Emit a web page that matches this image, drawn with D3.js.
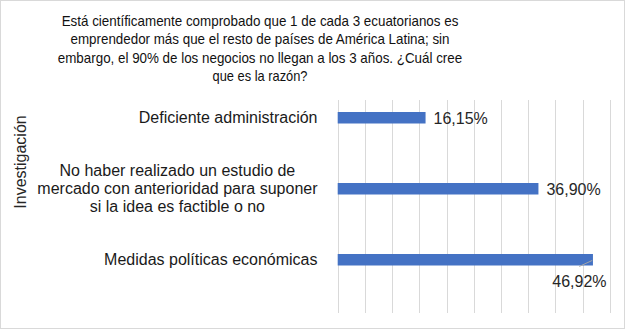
<!DOCTYPE html>
<html><head><meta charset="utf-8">
<script src="https://cdn.jsdelivr.net/npm/d3@7"></script>
<style>body{margin:0;background:#fff}svg{display:block;font-family:"Liberation Sans",Arial,sans-serif}</style>
</head><body><svg id="c" width="625" height="329"></svg>
<script>
const titleLines = ["Está científicamente  comprobado que 1 de cada 3 ecuatorianos es",
  "emprendedor más que el resto de países de América Latina; sin",
  "embargo, el 90% de los negocios no llegan a los 3 años. ¿Cuál cree",
  "que es la razón?"];
const titleWidths = [396.7, 379, 404.4, 95];
const categories = ["Deficiente administración",
  "No haber realizado un estudio de\nmercado con anterioridad para suponer\nsi la idea es factible o no",
  "Medidas políticas económicas"];
const values = [16.15, 36.90, 46.92];
const valueLabels = ["16,15%", "36,90%", "46,92%"];
const xTicks = [0,5,10,15,20,25,30,35,40,45,50];
const axisTitle = "Investigación";

const svg = d3.select("#c");
svg.append("rect").attr("x",0.5).attr("y",0.5).attr("width",624).attr("height",328)
  .attr("fill","#fff").attr("stroke","#d9d9d9");

const x = d3.scaleLinear().domain([0,50]).range([337.7,609.7]);
const y = d3.scaleBand().domain(categories).range([100,313]);
const barOff = 12, barH = 11.5;

// gridlines
svg.append("g").attr("transform","translate(0,313)")
  .call(d3.axisBottom(x).tickValues(xTicks).tickSize(-213).tickFormat(""))
  .call(g=>g.select(".domain").remove())
  .call(g=>g.selectAll("line").attr("stroke","#d9d9d9").attr("shape-rendering","crispEdges"));

// bars
svg.selectAll("rect.bar").data(categories).join("rect").attr("class","bar")
  .attr("x",x(0)).attr("y",d=>y(d)+barOff).attr("height",barH)
  .attr("width",(d,i)=>x(values[i])-x(0)).attr("fill","#4472C4");

// value labels
categories.forEach((c,i)=>{
  const cy = y(c)+barOff+barH/2;
  if(i<2){
    svg.append("text").attr("x",x(values[i])+8).attr("y",cy+6)
      .attr("font-size",16).attr("fill","#262626").text(valueLabels[i]);
  } else {
    const ex = x(values[i]);
    svg.append("line").attr("x1",ex-0.7).attr("y1",cy+0.7).attr("x2",ex-13.7).attr("y2",cy+6.7)
      .attr("stroke","#a6a6a6").attr("stroke-width",1);
    svg.append("text").attr("x",ex-13.5).attr("y",cy+27).attr("text-anchor","middle")
      .attr("font-size",16).attr("fill","#262626").text(valueLabels[i]);
  }
});

// category labels
categories.forEach(c=>{
  const lines = c.split("\n");
  const cy = y(c)+barOff+barH/2;
  const g = svg.append("g");
  const ts = lines.map((l,j)=>g.append("text").attr("font-size",16).attr("fill","#1a1a1a")
      .attr("text-anchor","middle").attr("y",cy + (j-(lines.length-1)/2)*17.8 + 5.5).text(l));
  const w = d3.max(ts,t=>t.node().getComputedTextLength());
  ts.forEach(t=>t.attr("x",317.5 - w/2));
});

// axis title
svg.append("text").attr("transform","translate(25.5,162) rotate(-90)").attr("text-anchor","middle")
  .attr("font-size",16).attr("fill","#262626").text(axisTitle);

// title
svg.append("g").selectAll("text").data(titleLines).join("text")
  .attr("x",260).attr("y",(d,i)=>25.5+i*18.5).attr("text-anchor","middle")
  .attr("font-size",15).attr("fill","#111")
  .attr("textLength",(d,i)=>titleWidths[i]).attr("lengthAdjust","spacingAndGlyphs").text(d=>d);
</script></body></html>
